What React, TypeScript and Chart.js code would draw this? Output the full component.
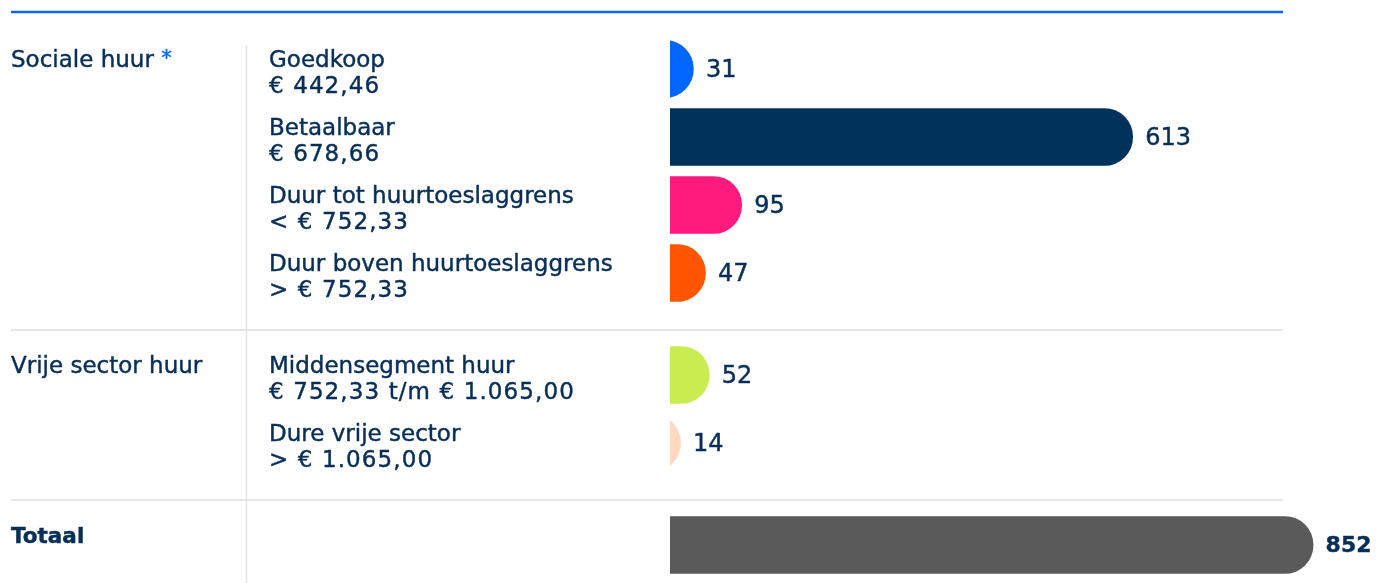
import { useEffect, useRef } from 'react';
import { Chart, registerables } from 'chart.js';

Chart.register(...registerables);

// ---- data ----
const groupNames = ['Sociale huur', 'Vrije sector huur', 'Totaal'];
const groupMarks = ['*', '', ''];
const categoryGroup = [0, 0, 0, 0, 1, 1, 2];
const categoryNames = [
  'Goedkoop',
  'Betaalbaar',
  'Duur tot huurtoeslaggrens',
  'Duur boven huurtoeslaggrens',
  'Middensegment huur',
  'Dure vrije sector',
  '',
];
const priceRanges = [
  '€ 442,46',
  '€ 678,66',
  '< € 752,33',
  '> € 752,33',
  '€ 752,33 t/m € 1.065,00',
  '> € 1.065,00',
  '',
];
const values = [31, 613, 95, 47, 52, 14, 852];
const barColors = ['#0066ff', '#00325a', '#ff1a7d', '#ff5500', '#c9ec50', '#ffd8bf', '#5a5a5a'];

// ---- layout / style ----
const W = 1376;
const H = 583;
const TEXT = '#082f57';
const BLUE = '#0a66f5';
const RULE = '#e9e4e6';
const X_MAX = 900;
const PLOT_LEFT = 670;
const PX_PER_UNIT = 0.7548;
const PITCH = 68;
const HIDDEN_START = -80; // bar starts left of the clip so its cap is a full half-circle

// slot positions: 1 step within a group, 1.5 between groups
const slots: number[] = [];
categoryGroup.forEach((g, i) => {
  if (i === 0) slots.push(0);
  else slots.push(slots[i - 1] + (g !== categoryGroup[i - 1] ? 1.5 : 1));
});
const lastSlot = slots[slots.length - 1];

function heavyText(ctx: CanvasRenderingContext2D, text: string, x: number, y: number, color: string) {
  ctx.fillStyle = color;
  ctx.strokeStyle = color;
  ctx.lineWidth = 0.45;
  ctx.lineJoin = 'round';
  ctx.fillText(text, x, y);
  ctx.strokeText(text, x, y);
}

const tablePlugin = {
  id: 'tableLayout',
  beforeDatasetsDraw(chart: any) {
    const { ctx } = chart;
    const y = chart.scales.y;
    ctx.save();
    // top blue rule
    ctx.strokeStyle = BLUE;
    ctx.lineWidth = 2.5;
    ctx.beginPath();
    ctx.moveTo(11, 12);
    ctx.lineTo(1283, 12);
    ctx.stroke();
    // vertical divider
    ctx.strokeStyle = RULE;
    ctx.lineWidth = 1.5;
    ctx.beginPath();
    ctx.moveTo(246.5, y.getPixelForValue(slots[0]) - 24);
    ctx.lineTo(246.5, H);
    ctx.stroke();
    // group separators
    ctx.lineWidth = 2;
    categoryGroup.forEach((g, i) => {
      if (i > 0 && g !== categoryGroup[i - 1]) {
        const py = Math.round(y.getPixelForValue(slots[i]) - 45);
        ctx.beginPath();
        ctx.moveTo(11, py);
        ctx.lineTo(1283, py);
        ctx.stroke();
      }
    });
    ctx.restore();
  },
  afterDatasetsDraw(chart: any) {
    const { ctx } = chart;
    const x = chart.scales.x;
    const y = chart.scales.y;
    ctx.save();
    ctx.textAlign = 'left';
    ctx.textBaseline = 'alphabetic';
    // group labels
    categoryGroup.forEach((g, i) => {
      if (i > 0 && g === categoryGroup[i - 1]) return;
      const cy = y.getPixelForValue(slots[i]);
      const isTotal = g === groupNames.length - 1;
      const label = groupNames[g];
      if (isTotal) {
        ctx.font = 'bold 21.5px "DejaVu Sans"';
        heavyText(ctx, label, 11, cy - 2, TEXT);
      } else {
        ctx.font = '23px "DejaVu Sans"';
        heavyText(ctx, label, 11, cy - 2.5, TEXT);
      }
      if (groupMarks[g]) {
        const w = ctx.measureText(label + ' ').width;
        ctx.font = '21px "DejaVu Sans"';
        heavyText(ctx, groupMarks[g], 11 + w, cy - 4, BLUE);
      }
    });
    // category labels
    categoryNames.forEach((name, i) => {
      const cy = y.getPixelForValue(slots[i]);
      ctx.font = '23px "DejaVu Sans"';
      (ctx as any).letterSpacing = '0px';
      if (name) heavyText(ctx, name, 269, cy - 2.5, TEXT);
      if (priceRanges[i]) {
        (ctx as any).letterSpacing = '1.1px';
        heavyText(ctx, priceRanges[i], 269, cy + 23.5, TEXT);
        (ctx as any).letterSpacing = '0px';
      }
    });
    // value labels
    ctx.textBaseline = 'middle';
    values.forEach((v, i) => {
      const isTotal = categoryGroup[i] === groupNames.length - 1;
      ctx.font = isTotal ? 'bold 22px "DejaVu Sans"' : '24px "DejaVu Sans"';
      heavyText(ctx, String(v), x.getPixelForValue(v) + 12.5, y.getPixelForValue(slots[i]) + 1.5, TEXT);
    });
    ctx.restore();
  },
};

export default function App() {
  const ref = useRef<HTMLCanvasElement | null>(null);
  useEffect(() => {
    if (!ref.current) return;
    const chart = new Chart(ref.current, {
      type: 'bar',
      data: {
        datasets: [
          {
            data: values.map((v, i) => ({ x: [HIDDEN_START, v], y: slots[i] })) as any,
            backgroundColor: barColors,
            borderRadius: { topLeft: 0, bottomLeft: 0, topRight: 100, bottomRight: 100 },
            borderSkipped: false,
            borderWidth: 0,
            barThickness: 57,
            clip: { left: 0, top: false, right: false, bottom: false } as any,
          },
        ],
      },
      options: {
        indexAxis: 'y',
        animation: false,
        responsive: false,
        events: [],
        layout: {
          padding: {
            left: PLOT_LEFT,
            right: W - (PLOT_LEFT + X_MAX * PX_PER_UNIT),
            top: 35,
            bottom: H - 35 - (lastSlot + 1) * PITCH,
          },
        },
        scales: {
          x: { type: 'linear', min: 0, max: X_MAX, display: false, offset: false },
          y: {
            type: 'linear',
            min: -0.5,
            max: lastSlot + 0.5,
            reverse: true,
            display: false,
            offset: false,
          },
        },
        plugins: { legend: { display: false }, tooltip: { enabled: false } },
      },
      plugins: [tablePlugin],
    });
    return () => chart.destroy();
  }, []);
  return (
    <div style={{ position: 'fixed', left: 0, top: 0, width: W, height: H, background: '#fff' }}>
      <canvas ref={ref} width={W} height={H} style={{ display: 'block' }} />
    </div>
  );
}
